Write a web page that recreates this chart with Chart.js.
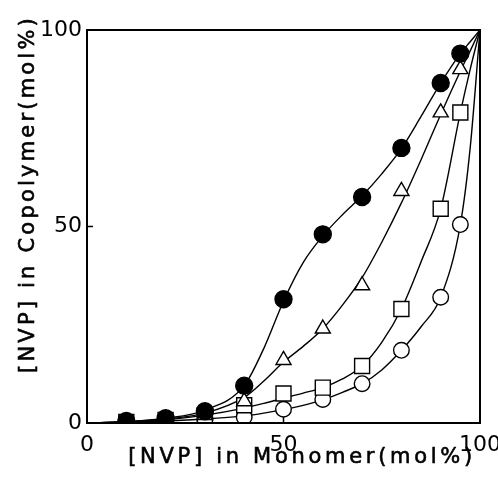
<!DOCTYPE html>
<html>
<head>
<meta charset="utf-8">
<script src="https://cdn.jsdelivr.net/npm/chart.js@4/dist/chart.umd.min.js"></script>
<style>
  html, body { margin: 0; padding: 0; background: #fff; }
  #wrap { width: 498px; height: 489px; }
</style>
</head>
<body>
<div id="wrap"><canvas id="chart" width="498" height="489"></canvas></div>
<script>
// monomer feed [NVP] (mol%) of the measured points
const monomer = [10, 20, 30, 40, 50, 60, 70, 80, 90, 95];
// copolymer composition [NVP] (mol%), measured points
const filledCircle = [0.5, 1.2, 3, 9.5, 31.5, 48, 57.5, 70, 86.5, 94];
const openTriangle = [0.3, 1, 2, 5.5, 16, 24, 35, 59, 79, 90];
const openSquare = [0.3, 0.8, 2, 4.5, 7.5, 9, 14.5, 29, 54.5, 79];
const openCircle = [0.2, 0.6, 1, 1.5, 3.5, 6, 10, 18.5, 32, 50.5];

// drawn curves at these feed values
const curveX = [0, 10, 20, 30, 40, 45, 50, 55, 60, 65, 70, 75, 80, 85, 90, 95, 97.5, 100];
const filledCurve = [0, 0.3, 1.2, 3.3, 9.5, 19, 31, 40.8, 47.6, 53, 57.8, 63.4, 69.8, 78, 86.5, 94, 97, 100];
const triangleCurve = [0, 0.3, 1, 2.5, 6.5, 10.7, 15.5, 19.5, 24, 30, 37, 46, 56, 67, 78.5, 89.5, 94.7, 100];
const squareCurve = [0, 0.3, 0.8, 2, 3.8, 5, 6.3, 7.6, 9, 11.2, 14.5, 20.5, 29, 41, 54.5, 79, 90, 100];
const circleCurve = [0, 0.2, 0.5, 1, 1.8, 2.5, 3.4, 4.5, 5.9, 7.8, 10, 13.5, 18.5, 24.5, 32, 50.5, 70, 100];

const tickValues = [0, 50, 100];
const xTitle = "[NVP] in Monomer(mol%)";
const yTitle = "[NVP] in Copolymer(mol%)";

function pairs(xs, ys) {
  return xs.map((x, i) => ({ x: x, y: ys[i] }));
}

function lineSet(ys) {
  return {
    type: "line",
    data: pairs(curveX, ys),
    borderColor: "#000",
    borderWidth: 1.4,
    pointRadius: 0,
    fill: false,
    cubicInterpolationMode: "monotone",
    order: 2
  };
}

function markerSet(ys, style, radius, fillColor) {
  return {
    type: "scatter",
    data: pairs(monomer, ys),
    pointStyle: style,
    pointRadius: radius,
    pointBorderColor: "#000",
    pointBackgroundColor: fillColor,
    pointBorderWidth: 1.4,
    showLine: false,
    order: 1
  };
}

// frame, inward ticks and the axis titles
const framePlugin = {
  id: "frame",
  afterDatasetsDraw(chart) {
    const { ctx, chartArea: a, scales } = chart;
    ctx.save();
    ctx.strokeStyle = "#000";
    ctx.lineWidth = 2;
    ctx.strokeRect(a.left, a.top, a.right - a.left, a.bottom - a.top);

    ctx.lineWidth = 1.5;
    ctx.beginPath();
    tickValues.forEach(v => {
      const x = scales.x.getPixelForValue(v);
      ctx.moveTo(x, a.bottom);
      ctx.lineTo(x, a.bottom - 6);
      const y = scales.y.getPixelForValue(v);
      ctx.moveTo(a.left, y);
      ctx.lineTo(a.left + 6, y);
    });
    ctx.stroke();

    ctx.fillStyle = "#000";
    ctx.lineWidth = 0.6;
    ctx.font = "21px 'DejaVu Sans'";
    ctx.textAlign = "center";
    ctx.textBaseline = "middle";
    ctx.letterSpacing = "3.7px";
    const tx = 302;
    const ty = a.bottom + 35;
    ctx.fillText(xTitle, tx, ty);
    ctx.strokeText(xTitle, tx, ty);

    ctx.letterSpacing = "3.2px";
    ctx.translate(29, a.top + 164);
    ctx.rotate(-Math.PI / 2);
    ctx.fillText(yTitle, 0, 0);
    ctx.strokeText(yTitle, 0, 0);
    ctx.restore();
  }
};

const ctx = document.getElementById("chart").getContext("2d");
new Chart(ctx, {
  data: {
    datasets: [
      lineSet(filledCurve),
      lineSet(triangleCurve),
      lineSet(squareCurve),
      lineSet(circleCurve),
      markerSet(filledCircle, "circle", 8.5, "#000"),
      markerSet(openTriangle, "triangle", 8.7, "#fff"),
      markerSet(openSquare, "rect", 10.6, "#fff"),
      markerSet(openCircle, "circle", 7.8, "#fff")
    ]
  },
  options: {
    responsive: false,
    animation: false,
    layout: { padding: { top: 30, right: 18, left: 0, bottom: 0 } },
    plugins: {
      legend: { display: false },
      tooltip: { enabled: false }
    },
    scales: {
      x: {
        type: "linear",
        min: 0,
        max: 100,
        afterBuildTicks: s => { s.ticks = tickValues.map(v => ({ value: v })); },
        grid: { display: false, drawTicks: false },
        border: { display: false },
        ticks: {
          color: "#000",
          font: { family: "DejaVu Sans", size: 22 },
          padding: 9,
          maxRotation: 0
        },
        afterFit: s => {
          s.height = 66;
          s.paddingLeft = 0;
          s.paddingRight = 0;
        }
      },
      y: {
        type: "linear",
        min: 0,
        max: 100,
        afterBuildTicks: s => { s.ticks = tickValues.map(v => ({ value: v })); },
        grid: { display: false, drawTicks: false },
        border: { display: false },
        ticks: {
          color: "#000",
          font: { family: "DejaVu Sans", size: 22 },
          padding: 5
        },
        afterFit: s => {
          s.width = 87;
          s.paddingTop = 0;
          s.paddingBottom = 0;
        }
      }
    }
  },
  plugins: [framePlugin]
});
</script>
</body>
</html>
